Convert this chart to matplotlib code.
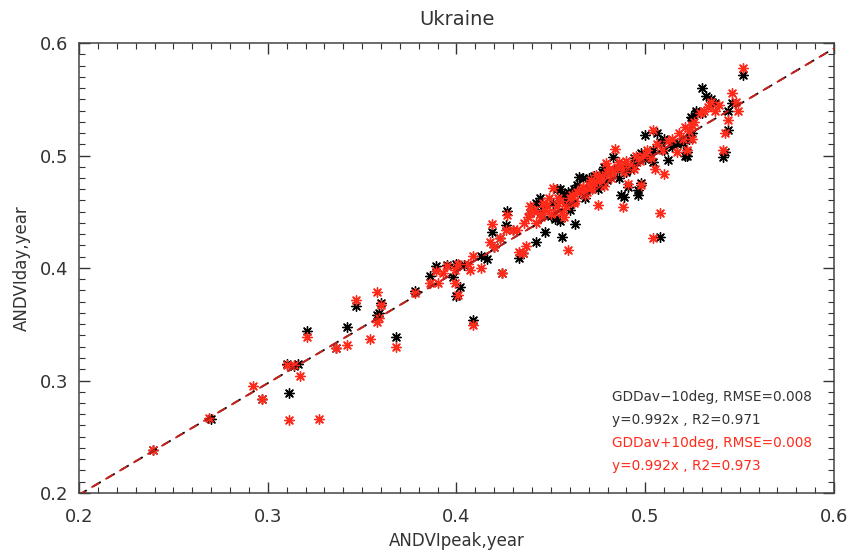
import matplotlib
matplotlib.use("Agg")
import matplotlib.pyplot as plt
import numpy as np

title = "Ukraine"
xlabel = "ANDVIpeak,year"
ylabel = "ANDVIday,year"

black_x = [0.239,0.270,0.297,0.311,0.310,0.316,0.314,0.321,0.336,0.342,0.347,0.358,0.359,0.360,0.368,0.378,0.386,0.389,0.395,0.398,
           0.400,0.400,0.402,0.404,0.409,0.413,0.416,0.419,0.420,0.423,0.424,0.426,0.427,0.430,0.433,0.435,0.439,0.442,0.442,0.444,
           0.447,0.450,0.452,0.453,0.455,0.456,0.457,0.460,0.463,0.462,0.465,0.467,0.468,0.470,0.472,0.475,0.477,0.480,0.483,0.485,
           0.487,0.489,0.488,0.491,0.492,0.494,0.496,0.496,0.498,0.500,0.500,0.502,0.504,0.506,0.508,0.508,0.510,0.512,0.514,0.517,
           0.520,0.521,0.522,0.522,0.524,0.523,0.525,0.525,0.527,0.527,0.530,0.530,0.532,0.535,0.537,0.541,0.542,0.544,0.546,0.544,
           0.552,0.455,0.445,0.458,0.465,0.470,0.475,0.478,0.482,0.486,0.490,0.494,0.498,0.504,0.510,0.515,
           0.446,0.451,0.459,0.464,0.473]
black_y = [0.238,0.266,0.284,0.289,0.315,0.315,0.313,0.344,0.329,0.348,0.366,0.358,0.360,0.369,0.339,0.380,0.393,0.402,0.403,0.392,
           0.404,0.375,0.383,0.403,0.354,0.411,0.408,0.432,0.419,0.427,0.396,0.438,0.451,0.434,0.409,0.413,0.449,0.423,0.458,0.462,
           0.432,0.446,0.444,0.470,0.442,0.428,0.465,0.452,0.439,0.470,0.481,0.480,0.462,0.470,0.475,0.470,0.485,0.478,0.499,0.488,
           0.465,0.463,0.490,0.472,0.488,0.492,0.469,0.465,0.476,0.518,0.497,0.500,0.494,0.520,0.428,0.512,0.505,0.496,0.508,0.510,
           0.511,0.500,0.503,0.500,0.534,0.515,0.533,0.520,0.538,0.540,0.560,0.538,0.553,0.550,0.547,0.499,0.503,0.523,0.547,0.540,
           0.572,0.470,0.450,0.460,0.468,0.480,0.478,0.490,0.486,0.480,0.485,0.498,0.502,0.505,0.515,0.512,
           0.455,0.458,0.468,0.474,0.482]

red_x = [0.239,0.269,0.292,0.297,0.311,0.310,0.314,0.317,0.321,0.327,0.336,0.342,0.347,0.354,0.358,0.358,0.360,0.359,0.368,0.378,
         0.386,0.389,0.390,0.393,0.395,0.399,0.399,0.401,0.401,0.406,0.407,0.409,0.409,0.413,0.418,0.419,0.420,0.423,0.424,0.426,
         0.427,0.430,0.432,0.433,0.435,0.437,0.439,0.439,0.442,0.445,0.447,0.450,0.451,0.453,0.455,0.456,0.457,0.459,0.460,0.462,
         0.464,0.466,0.468,0.470,0.472,0.474,0.475,0.476,0.478,0.479,0.480,0.482,0.484,0.485,0.487,0.488,0.489,0.490,0.491,0.492,
         0.494,0.495,0.497,0.498,0.499,0.501,0.503,0.504,0.504,0.505,0.506,0.508,0.509,0.510,0.512,0.514,0.517,0.518,0.520,0.521,
         0.522,0.523,0.525,0.525,0.526,0.529,0.531,0.533,0.535,0.537,0.539,0.541,0.542,0.544,0.546,0.548,0.549,0.552,
         0.444,0.448,0.452,0.454,0.458,0.461,0.463,0.467,0.469,0.471,0.473,0.477,0.481,0.483,0.486,0.436,0.438,0.441,0.446,0.449]
red_y = [0.238,0.267,0.295,0.284,0.265,0.314,0.314,0.304,0.339,0.266,0.329,0.332,0.372,0.337,0.379,0.352,0.367,0.356,0.330,0.378,
         0.387,0.397,0.387,0.396,0.402,0.387,0.398,0.376,0.404,0.404,0.398,0.349,0.411,0.400,0.423,0.439,0.419,0.427,0.396,0.434,
         0.447,0.434,0.434,0.414,0.413,0.420,0.449,0.455,0.440,0.445,0.452,0.448,0.471,0.455,0.460,0.450,0.445,0.416,0.462,0.458,
         0.468,0.470,0.465,0.474,0.470,0.483,0.456,0.478,0.473,0.493,0.485,0.480,0.506,0.490,0.490,0.454,0.485,0.495,0.475,0.492,
         0.488,0.500,0.495,0.474,0.500,0.505,0.498,0.523,0.427,0.488,0.510,0.449,0.505,0.484,0.513,0.515,0.503,0.520,0.515,0.525,
         0.505,0.522,0.527,0.515,0.530,0.538,0.540,0.543,0.548,0.540,0.545,0.505,0.520,0.532,0.556,0.548,0.540,0.578,
         0.448,0.455,0.450,0.462,0.455,0.465,0.460,0.472,0.468,0.478,0.476,0.482,0.488,0.485,0.494,0.440,0.445,0.452,0.458,0.462]

slope_black = 0.992
slope_red = 0.992
legend_lines = ["GDDav\u221210deg, RMSE=0.008", "y=0.992x , R2=0.971",
                "GDDav+10deg, RMSE=0.008", "y=0.992x , R2=0.973"]

txt = "#333333"
red = "#ff2a1a"

fig = plt.figure(figsize=(8.55, 5.53), dpi=100)
ax = fig.add_axes([79/855, 1-493/553, 755/855, 450/553])

mk = (8, 2, 0)
ax.scatter(black_x, black_y, marker=mk, s=48, c="black", linewidths=1.0, zorder=3)
ax.scatter(red_x, red_y, marker=mk, s=48, c=red, linewidths=1.0, zorder=4)

lx = np.array([0.2, 0.6])
ax.plot(lx, slope_black*lx, color="black", lw=1.3, ls=(0, (5, 4)), zorder=5)
ax.plot(lx, slope_red*lx, color="#d0201a", lw=1.3, ls=(1, (5, 4)), zorder=6)

ax.set_xlim(0.2, 0.6)
ax.set_ylim(0.2, 0.6)
ax.set_xticks([0.2, 0.3, 0.4, 0.5, 0.6])
ax.set_yticks([0.2, 0.3, 0.4, 0.5, 0.6])
ax.set_xticklabels(["0.2", "0.3", "0.4", "0.5", "0.6"])
ax.set_yticklabels(["0.2", "0.3", "0.4", "0.5", "0.6"])
ax.set_xticks(np.arange(0.2, 0.6001, 0.01), minor=True)
ax.set_yticks(np.arange(0.2, 0.6001, 0.01), minor=True)
ax.tick_params(which="both", direction="in", top=True, right=True, colors=txt, labelcolor=txt)
ax.tick_params(which="major", length=8, width=1, labelsize=13)
ax.tick_params(axis="x", which="major", pad=11)
ax.tick_params(axis="y", which="major", pad=8)
ax.tick_params(which="minor", length=4, width=0.8)
for s in ax.spines.values():
    s.set_color("#444444")
    s.set_linewidth(1.1)

ax.set_title(title, fontsize=14, color=txt, pad=13)
ax.set_xlabel(xlabel, fontsize=12, color=txt, labelpad=4)
ax.set_ylabel(ylabel, fontsize=12, color=txt, labelpad=6)

cols = [txt, txt, red, red]
ys = [0.213, 0.162, 0.111, 0.060]
for t, c, yy in zip(legend_lines, cols, ys):
    ax.text(0.706, yy, t, transform=ax.transAxes, fontsize=9.8, color=c, va="center", ha="left")

fig.savefig("out.png", dpi=100)
